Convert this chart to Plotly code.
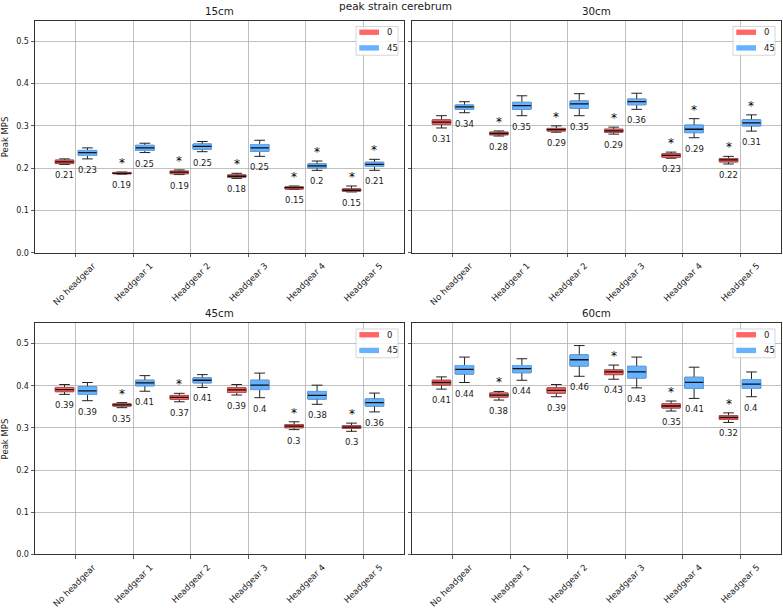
import plotly.graph_objects as go

categories = ["No headgear", "Headgear 1", "Headgear 2", "Headgear 3", "Headgear 4", "Headgear 5"]
panels = ["15cm", "30cm", "45cm", "60cm"]
hues = ["0", "45"]

# ---- 15cm ----
lo_15_0 = [0.209, 0.186, 0.185, 0.176, 0.150, 0.144]
q1_15_0 = [0.211, 0.187, 0.187, 0.179, 0.151, 0.146]
md_15_0 = [0.215, 0.188, 0.191, 0.181, 0.154, 0.148]
q3_15_0 = [0.219, 0.190, 0.193, 0.184, 0.156, 0.151]
hi_15_0 = [0.222, 0.191, 0.196, 0.188, 0.158, 0.158]
lab_15_0 = ["0.21", "0.19", "0.19", "0.18", "0.15", "0.15"]
star_15_0 = [False, True, True, True, True, True]

lo_15_45 = [0.222, 0.237, 0.239, 0.228, 0.195, 0.195]
q1_15_45 = [0.230, 0.242, 0.245, 0.240, 0.201, 0.204]
md_15_45 = [0.237, 0.248, 0.2515, 0.248, 0.2055, 0.209]
q3_15_45 = [0.242, 0.254, 0.257, 0.256, 0.210, 0.214]
hi_15_45 = [0.248, 0.259, 0.263, 0.266, 0.217, 0.221]
lab_15_45 = ["0.23", "0.25", "0.25", "0.25", "0.2", "0.21"]
star_15_45 = [False, False, False, False, True, True]

# ---- 30cm ----
lo_30_0 = [0.295, 0.276, 0.285, 0.2805, 0.2235, 0.210]
q1_30_0 = [0.304, 0.279, 0.288, 0.285, 0.226, 0.215]
md_30_0 = [0.309, 0.282, 0.291, 0.288, 0.2305, 0.2195]
q3_30_0 = [0.314, 0.285, 0.294, 0.292, 0.234, 0.223]
hi_30_0 = [0.324, 0.288, 0.300, 0.297, 0.238, 0.228]
lab_30_0 = ["0.31", "0.28", "0.29", "0.29", "0.23", "0.22"]
star_30_0 = [False, True, True, True, True, True]

lo_30_45 = [0.331, 0.324, 0.324, 0.339, 0.272, 0.2876]
q1_30_45 = [0.339, 0.339, 0.342, 0.350, 0.284, 0.300]
md_30_45 = [0.345, 0.348, 0.352, 0.357, 0.292, 0.307]
q3_30_45 = [0.349, 0.3555, 0.3586, 0.363, 0.3016, 0.314]
hi_30_45 = [0.357, 0.371, 0.376, 0.377, 0.317, 0.326]
lab_30_45 = ["0.34", "0.35", "0.35", "0.36", "0.29", "0.31"]
star_30_45 = [False, False, False, False, True, True]

# ---- 45cm ----
lo_45_0 = [0.3795, 0.348, 0.362, 0.378, 0.296, 0.292]
q1_45_0 = [0.386, 0.352, 0.368, 0.384, 0.3005, 0.299]
md_45_0 = [0.391, 0.3545, 0.3725, 0.390, 0.3044, 0.302]
q3_45_0 = [0.396, 0.357, 0.377, 0.395, 0.308, 0.305]
hi_45_0 = [0.403, 0.360, 0.382, 0.403, 0.3146, 0.3114]
lab_45_0 = ["0.39", "0.35", "0.37", "0.39", "0.3", "0.3"]
star_45_0 = [False, True, True, False, True, True]

lo_45_45 = [0.3646, 0.387, 0.396, 0.3717, 0.356, 0.338]
q1_45_45 = [0.3795, 0.400, 0.407, 0.391, 0.3685, 0.352]
md_45_45 = [0.388, 0.407, 0.413, 0.4014, 0.377, 0.360]
q3_45_45 = [0.3975, 0.413, 0.4186, 0.413, 0.3865, 0.3685]
hi_45_45 = [0.4077, 0.424, 0.4264, 0.430, 0.4014, 0.3826]
lab_45_45 = ["0.39", "0.41", "0.41", "0.4", "0.38", "0.36"]
star_45_45 = [False, False, False, False, False, False]

# ---- 60cm ----
lo_60_0 = [0.392, 0.366, 0.374, 0.4155, 0.340, 0.313]
q1_60_0 = [0.402, 0.3732, 0.3826, 0.4264, 0.3474, 0.320]
md_60_0 = [0.4077, 0.378, 0.389, 0.4327, 0.352, 0.3247]
q3_60_0 = [0.413, 0.3826, 0.395, 0.4374, 0.357, 0.329]
hi_60_0 = [0.421, 0.3865, 0.403, 0.449, 0.3638, 0.3357]
lab_60_0 = ["0.41", "0.38", "0.39", "0.43", "0.35", "0.32"]
star_60_0 = [False, True, False, True, True, True]

lo_60_45 = [0.4077, 0.413, 0.4225, 0.395, 0.370, 0.374]
q1_60_45 = [0.428, 0.431, 0.447, 0.4186, 0.394, 0.3936]
md_60_45 = [0.439, 0.4405, 0.4617, 0.4327, 0.408, 0.404]
q3_60_45 = [0.448, 0.448, 0.473, 0.446, 0.420, 0.4147]
hi_60_45 = [0.468, 0.464, 0.4953, 0.468, 0.444, 0.4327]
lab_60_45 = ["0.44", "0.44", "0.46", "0.43", "0.41", "0.4"]
star_60_45 = [False, False, False, False, False, False]

yticks = [0.0, 0.1, 0.2, 0.3, 0.4, 0.5]

series = {
    ("15cm", "0"): (lo_15_0, q1_15_0, md_15_0, q3_15_0, hi_15_0, lab_15_0, star_15_0),
    ("15cm", "45"): (lo_15_45, q1_15_45, md_15_45, q3_15_45, hi_15_45, lab_15_45, star_15_45),
    ("30cm", "0"): (lo_30_0, q1_30_0, md_30_0, q3_30_0, hi_30_0, lab_30_0, star_30_0),
    ("30cm", "45"): (lo_30_45, q1_30_45, md_30_45, q3_30_45, hi_30_45, lab_30_45, star_30_45),
    ("45cm", "0"): (lo_45_0, q1_45_0, md_45_0, q3_45_0, hi_45_0, lab_45_0, star_45_0),
    ("45cm", "45"): (lo_45_45, q1_45_45, md_45_45, q3_45_45, hi_45_45, lab_45_45, star_45_45),
    ("60cm", "0"): (lo_60_0, q1_60_0, md_60_0, q3_60_0, hi_60_0, lab_60_0, star_60_0),
    ("60cm", "45"): (lo_60_45, q1_60_45, md_60_45, q3_60_45, hi_60_45, lab_60_45, star_60_45),
}

W, H = 783, 613
FONT = "DejaVu Sans"
TXT = "#1a1a1a"
fill = {"0": "#ff6666", "45": "#66b2ff"}
edge = {"0": "#cc4a4a", "45": "#5fa9f5"}
offset = {"0": -0.2, "45": 0.2}
BOXW = 0.32
WW = 0.58

# panel pixel boxes (left, right, top, bottom)
px = {
    "15cm": (35, 404, 21, 255),
    "30cm": (412, 781, 21, 255),
    "45cm": (35, 404, 326, 559),
    "60cm": (412, 781, 326, 559),
}


def fx(v):
    return v / W


def fy(v):
    return 1 - v / H


fig = go.Figure()
layout = {}
annotations = []
shapes = []

for i, p in enumerate(panels):
    ax = "" if i == 0 else str(i + 1)
    xa, ya = "x" + ax, "y" + ax
    l, r, t, b = px[p]
    xdom = [fx(l), fx(r)]
    ydom = [fy(b), fy(t)]
    for h in hues:
        lo, q1, md, q3, hi, lab, st = series[(p, h)]
        xs = [k + offset[h] for k in range(len(categories))]
        # whiskers + caps
        fig.add_trace(go.Box(x=xs, q1=q1, median=md, q3=q3, lowerfence=lo, upperfence=hi,
                             width=BOXW, whiskerwidth=WW, boxpoints=False,
                             fillcolor="rgba(0,0,0,0)", line=dict(color="#222222", width=1),
                             showlegend=False, hoverinfo="skip", xaxis=xa, yaxis=ya))
        # coloured box
        fig.add_trace(go.Box(x=xs, q1=q1, median=md, q3=q3, lowerfence=q1, upperfence=q3,
                             width=BOXW, whiskerwidth=0, boxpoints=False,
                             fillcolor=fill[h], line=dict(color=edge[h], width=1),
                             showlegend=False, hoverinfo="skip", xaxis=xa, yaxis=ya))
        # median line
        fig.add_trace(go.Box(x=xs, q1=md, median=md, q3=md, lowerfence=md, upperfence=md,
                             width=BOXW, whiskerwidth=0, boxpoints=False,
                             fillcolor="rgba(0,0,0,0)", line=dict(color="#111111", width=1.3),
                             showlegend=False, hoverinfo="skip", xaxis=xa, yaxis=ya))
        for k in range(len(categories)):
            annotations.append(dict(x=xs[k], y=lo[k], xref=xa, yref=ya, text=lab[k],
                                    showarrow=False, xanchor="center", yanchor="top", yshift=-4,
                                    font=dict(family=FONT, size=8.5, color=TXT)))
            if st[k]:
                annotations.append(dict(x=xs[k], y=hi[k], xref=xa, yref=ya, text="*",
                                        showarrow=False, xanchor="center", yanchor="bottom", yshift=0,
                                        font=dict(family=FONT, size=12, color="#000000")))
    axis_common = dict(showline=True, linecolor="#333333", linewidth=1, mirror=True,
                       ticks="outside", ticklen=3.5, tickcolor="#333333", tickwidth=0.8,
                       showgrid=True, gridcolor="#b0b0b0", gridwidth=0.8, zeroline=False,
                       tickfont=dict(family=FONT, size=8, color=TXT))
    layout["xaxis" + ax] = dict(axis_common, domain=xdom, anchor=ya, range=[-0.714, 5.714],
                                tickmode="array", tickvals=list(range(len(categories))),
                                ticktext=categories, tickangle=-45, ticklabelshift=17,
                                tickfont=dict(family=FONT, size=8.6, color=TXT))
    yd = dict(axis_common, domain=ydom, anchor=xa, range=[0, 0.548],
              tickmode="array", tickvals=yticks, ticktext=["%.1f" % v for v in yticks])
    if i in (0, 2):
        annotations.append(dict(x=fx(4.5), y=fy((t + b) / 2), xref="paper", yref="paper",
                                text="Peak MPS", textangle=-90, showarrow=False,
                                xanchor="center", yanchor="middle",
                                font=dict(family=FONT, size=8.5, color=TXT)))
    else:
        yd["showticklabels"] = False
    layout["yaxis" + ax] = yd
    # subplot title
    annotations.append(dict(x=fx((l + r) / 2), y=fy(t - 10), xref="paper", yref="paper",
                            text=p, showarrow=False, xanchor="center", yanchor="middle",
                            font=dict(family=FONT, size=10.3, color=TXT)))
    # legend (manual, top-right inside panel)
    pw, ph = r - l, b - t

    def dx(v, l=l, pw=pw):
        return (v - l) / pw

    def dy(v, t=t, ph=ph):
        return 1 - (v - t) / ph

    shapes.append(dict(type="rect", xref=xa + " domain", yref=ya + " domain",
                       x0=dx(r - 48), x1=dx(r - 6), y0=dy(t + 34.7), y1=dy(t + 5.7),
                       line=dict(color="#cccccc", width=0.8), fillcolor="rgba(255,255,255,0.85)", layer="above"))
    for j, h in enumerate(hues):
        yc = t + 11.5 + j * 15.8
        shapes.append(dict(type="rect", xref=xa + " domain", yref=ya + " domain",
                           x0=dx(r - 44.7), x1=dx(r - 25), y0=dy(yc + 2.7), y1=dy(yc - 2.7),
                           line=dict(width=0), fillcolor=fill[h], layer="above"))
        annotations.append(dict(x=dx(r - 19), y=dy(yc), xref=xa + " domain", yref=ya + " domain",
                                text=h, showarrow=False, xanchor="left", yanchor="middle",
                                font=dict(family=FONT, size=8.5, color=TXT)))

annotations.append(dict(x=fx(395), y=fy(6.5), xref="paper", yref="paper",
                        text="peak strain cerebrum", showarrow=False, xanchor="center", yanchor="middle",
                        font=dict(family=FONT, size=10.5, color=TXT)))

fig.update_layout(**layout)
fig.update_layout(width=W, height=H, margin=dict(l=0, r=0, t=0, b=0),
                  paper_bgcolor="white", plot_bgcolor="white", boxmode="overlay",
                  showlegend=False, annotations=annotations, shapes=shapes,
                  font=dict(family=FONT, color=TXT))

fig.write_html("out.html", config={"displayModeBar": False, "staticPlot": True},
               post_script="document.body.style.margin='0px';document.body.style.padding='0px';")
